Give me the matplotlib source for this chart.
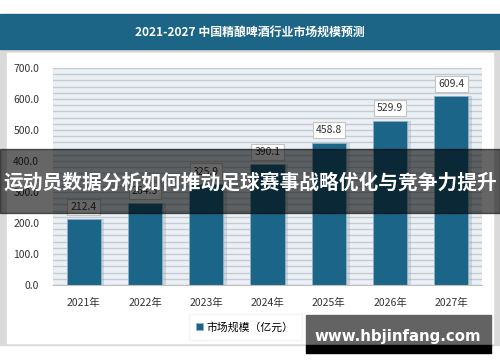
import matplotlib
matplotlib.use('Agg')
import matplotlib.pyplot as plt
from matplotlib.patches import Rectangle

plt.rcParams['font.family'] = ['Noto Sans CJK SC', 'DejaVu Sans']

years = ['2021年', '2022年', '2023年', '2024年', '2025年', '2026年', '2027年']
market_size = [212.4, 264.5, 325.9, 390.1, 458.8, 529.9, 609.4]
y_ticks = [0, 100, 200, 300, 400, 500, 600, 700]
title = '2021-2027 中国精酿啤酒行业市场规模预测'
legend_label = '市场规模（亿元）'
banner = '运动员数据分析如何推动足球赛事战略优化与竞争力提升'
watermark = 'www.hbjinfang.com'

W, H = 500, 362
bar_color = '#1b6688'

fig = plt.figure(figsize=(W / 100, H / 100), dpi=100)


def px_axes(x0, y0, x1, y1, **kw):
    # axes placed by pixel box (top-left origin)
    return fig.add_axes([x0 / W, 1 - y1 / H, (x1 - x0) / W, (y1 - y0) / H], **kw)


# background / frame
bg = px_axes(0, 0, W, H, zorder=0)
bg.set_xlim(0, W)
bg.set_ylim(H, 0)
bg.axis('off')
bg.add_patch(Rectangle((0, 49), W, 296, color='#dadada'))
bg.add_patch(Rectangle((7, 53), 486, 290, color='white'))
bg.add_patch(Rectangle((0, 14), W, 35, color='#1c6586'))
bg.text(250, 32, title, color='white', fontsize=8.6, fontweight='bold',
        ha='center', va='center')

# main chart
ax = px_axes(53, 68, 482, 285, zorder=2)
ax.set_facecolor('#eaf0f6')
for v in range(0, 701, 20):
    ax.axhline(v, color='#c6cbd0', lw=1, zorder=0)
x = list(range(len(years)))
# soft shadow to the right of each bar
ax.bar([i + 0.06 for i in x], market_size, width=0.56, color='#9aa3ab',
       alpha=0.35, zorder=1)
bars = ax.bar(x, market_size, width=0.555, color=bar_color,
              edgecolor='#8fb3c6', linewidth=0.6, zorder=2, label=legend_label)
for i, v in enumerate(market_size):
    ax.text(i, v + 40, f'{v:.1f}', ha='center', va='center', fontsize=7.5,
            color='#333333', zorder=3,
            bbox=dict(boxstyle='square,pad=0.3', fc='white', ec='#c4c4c4', lw=0.8))
ax.set_xlim(-0.5, len(years) - 0.5)
ax.set_ylim(0, 700)
ax.set_yticks(y_ticks)
ax.set_yticklabels([f'{t:.1f}' for t in y_ticks])
ax.set_xticks(x)
ax.set_xticklabels(years)
ax.tick_params(length=0, labelsize=7.5, colors='#333333')
ax.tick_params(axis='y', pad=10)
ax.tick_params(axis='x', pad=9)
for s in ['top', 'right', 'left']:
    ax.spines[s].set_visible(False)
ax.spines['bottom'].set_color('#bfbfbf')

fig.legend(handles=[bars], labels=[legend_label], loc='center',
           bbox_to_anchor=(245 / W, 1 - 327 / H), fontsize=7.8, frameon=True,
           fancybox=False, edgecolor='#f0f0f0', handlelength=0.6, handleheight=0.6,
           handletextpad=0.4, borderpad=0.7)

# overlay banner and watermark
ov = px_axes(0, 0, W, H, zorder=10)
ov.set_xlim(0, W)
ov.set_ylim(H, 0)
ov.axis('off')
ov.patch.set_alpha(0)
ov.add_patch(Rectangle((0, 149), W, 64, color='black', alpha=0.6))
ov.text(250, 183, banner, color='white', fontsize=14.2, fontweight='bold',
        ha='center', va='center')
ov.add_patch(Rectangle((306, 315), 185, 30, color='#636363'))
ov.add_patch(Rectangle((306, 345), 185, 8, color='black'))
ov.text(398, 336, watermark, color='white', fontsize=10.8, fontweight='bold',
        ha='center', va='center', family='DejaVu Sans')

fig.savefig('out.png', dpi=100)
